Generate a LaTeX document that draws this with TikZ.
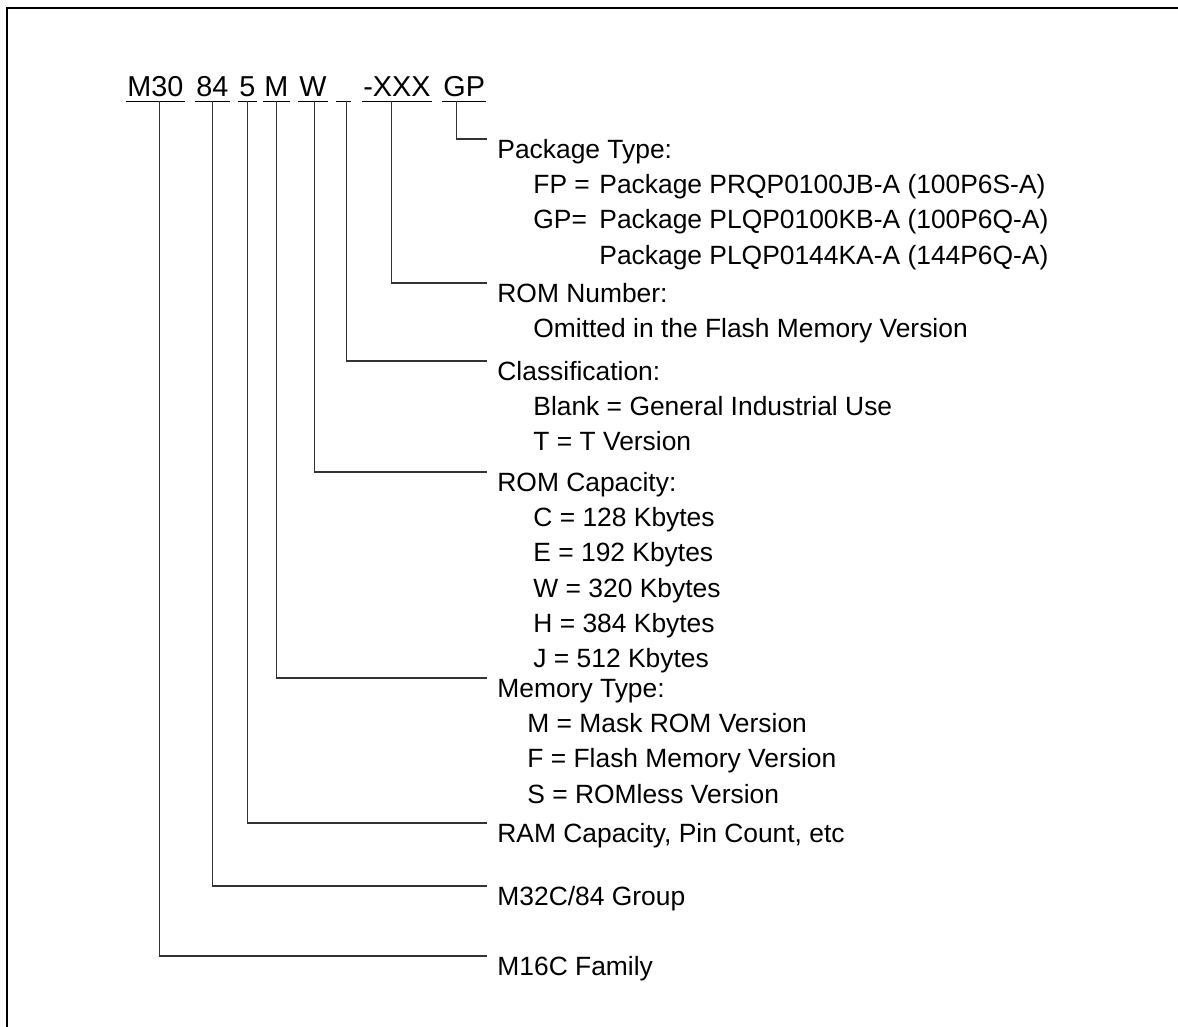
\documentclass[tikz,border=0pt]{standalone}
\usepackage{fontspec}
\setmainfont{Liberation Sans}

\begin{document}
\begin{tikzpicture}[x=0.5pt,y=-0.5pt]
\tikzstyle{every node}+=[inner sep=0pt,font=\fontsize{13.2}{17.65}\selectfont]
\tikzstyle{part}=[anchor=base west,inner xsep=0.5pt,text height=10pt,text depth=2pt,font=\fontsize{14.4}{17.65}\selectfont]
\tikzstyle{head}=[anchor=north west,inner xsep=5pt,text height=9.4pt,text depth=2.7pt]
\tikzstyle{items}=[anchor=base west]
\tikzstyle{uline}=[black,line width=0.8pt]
\tikzstyle{link}=[black!80,line width=0.6pt]
\useasboundingbox (0,0) rectangle (1178,1027);
\draw [black,line width=1.3pt] (7,1027) -- (7,8) -- (1178,8);
\node [part] (m30) at (126,97) {M30};
\node [part] (g84) at (195,97) {84};
\node [part] (r5) at (238,97) {5};
\node [part] (mem) at (263,97) {M};
\node [part] (rc) at (298,97) {W};
\node [part,minimum width=7pt] (cls) at (336,97) {};
\node [part] (rom) at (362,97) {-XXX};
\node [part] (pkg) at (442,97) {GP};
\foreach \p in {m30,g84,r5,mem,rc,cls,rom,pkg}
  \draw [uline] (\p.south west) -- (\p.south east);
\node [head] (lpkg) at (487,139) {Package Type:};
\node [items] (ipkg) at ([shift={(46,35.3)}]lpkg.base west) {\begin{tabular}[t]{@{}l@{}}
\makebox[33pt][l]{FP =}Package PRQP0100JB-A (100P6S-A)\\
\makebox[33pt][l]{GP=}Package PLQP0100KB-A (100P6Q-A)\\
\hspace{33pt}Package PLQP0144KA-A (144P6Q-A)
\end{tabular}};
\node [head] (lrom) at (487,283) {ROM Number:};
\node [items] (irom) at ([shift={(46,35.3)}]lrom.base west) {Omitted in the Flash Memory Version};
\node [head] (lcls) at (487,361) {Classification:};
\node [items] (icls) at ([shift={(46,35.3)}]lcls.base west) {\begin{tabular}[t]{@{}l@{}}
Blank = General Industrial Use\\
T = T Version
\end{tabular}};
\node [head] (lrc) at (487,472) {ROM Capacity:};
\node [items] (irc) at ([shift={(46,35.3)}]lrc.base west) {\begin{tabular}[t]{@{}l@{}}
C = 128 Kbytes\\
E = 192 Kbytes\\
W = 320 Kbytes\\
H = 384 Kbytes\\
J = 512 Kbytes
\end{tabular}};
\node [head] (lmt) at (487,678) {Memory Type:};
\node [items] (imt) at ([shift={(40,35.3)}]lmt.base west) {\begin{tabular}[t]{@{}l@{}}
M = Mask ROM Version\\
F = Flash Memory Version\\
S = ROMless Version
\end{tabular}};
\node [head] (lram) at (487,823) {RAM Capacity, Pin Count, etc};
\node [head] (lgrp) at (487,886) {M32C/84 Group};
\node [head] (lfam) at (487,956) {M16C Family};
\draw [link] ([xshift=-3.9pt]pkg.south) |- (lpkg.north west);
\draw [link] ([xshift=-2.75pt]rom.south) |- (lrom.north west);
\draw [link] ([xshift=1.5pt]cls.south) |- (lcls.north west);
\draw [link] ([xshift=0.75pt]rc.south) |- (lrc.north west);
\draw [link] (mem.south) |- (lmt.north west);
\draw [link] (r5.south) |- (lram.north west);
\draw [link] (g84.south) |- (lgrp.north west);
\draw [link] ([xshift=2pt]m30.south) |- (lfam.north west);
\end{tikzpicture}
\end{document}
